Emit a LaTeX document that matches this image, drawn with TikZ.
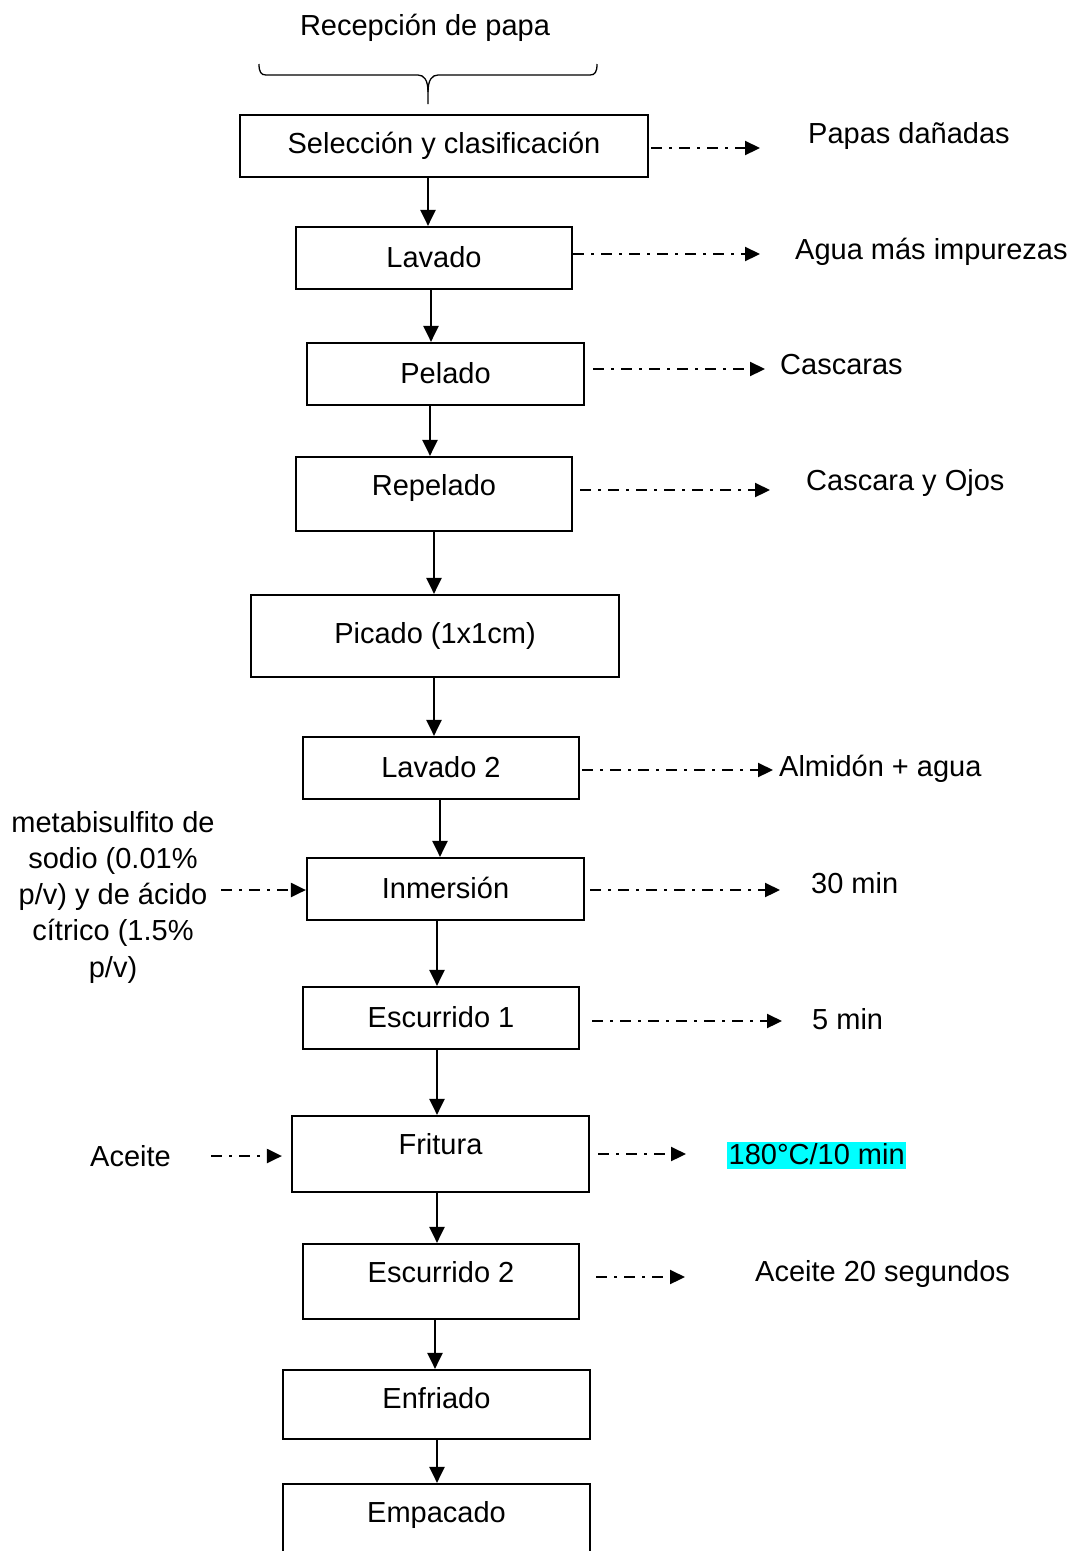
\documentclass[tikz,border=0pt]{standalone}
\usepackage{fontspec}
\setmainfont{Liberation Sans}
\usetikzlibrary{arrows.meta}
\definecolor{hlcyan}{RGB}{0,255,255}
\begin{document}
\begin{tikzpicture}[x=1pt,y=-1pt,
  every node/.style={font=\fontsize{29}{36.25}\selectfont},
  stepbox/.style={draw,line width=2.2pt,inner sep=0pt,minimum width=#1},
  lbl/.style={anchor=base west,inner sep=0pt},
  flow/.style={line width=2.2pt,-{Triangle[length=16pt,width=15pt]}},
  side/.style={line width=2.2pt,dash pattern=on 11pt off 7pt on 3pt off 7pt,-{Triangle[length=15pt,width=14pt]}}]
\useasboundingbox (0,0) rectangle (1075,1551);
% title and brace
\node[inner sep=0pt] (t) at (425,28) {Recepción de papa};
\draw[line width=1.3pt] (259,64) .. controls (259,72) and (261,75) .. (266,75) -- (418,75)
  .. controls (424,75) and (428,80) .. (428,92) -- (428,104);
\draw[line width=1.3pt] (597,64) .. controls (597,72) and (595,75) .. (590,75) -- (438,75)
  .. controls (432,75) and (428,80) .. (428,92);
% boxes
\node[stepbox=408pt,minimum height=62pt] (b1) at (444,146) {Selección y clasificación};
\node[stepbox=276pt,minimum height=62pt] (b2) at (434,258) {\raisebox{3pt}{Lavado}};
\node[stepbox=277pt,minimum height=62pt] (b3) at (445.5,374) {\raisebox{3pt}{Pelado}};
\node[stepbox=276pt,minimum height=74pt] (b4) at (434,494) {\raisebox{18pt}{Repelado}};
\node[stepbox=368pt,minimum height=82pt] (b5) at (435,636) {\raisebox{-3pt}{Picado (1x1cm)}};
\node[stepbox=276pt,minimum height=62pt] (b6) at (441,768) {\raisebox{3pt}{Lavado 2}};
\node[stepbox=277pt,minimum height=62pt] (b7) at (445.5,889) {\raisebox{3pt}{Inmersión}};
\node[stepbox=276pt,minimum height=62pt] (b8) at (441,1018) {\raisebox{3pt}{Escurrido 1}};
\node[stepbox=297pt,minimum height=76pt] (b9) at (440.5,1154) {\raisebox{21pt}{Fritura}};
\node[stepbox=276pt,minimum height=75pt] (b10) at (441,1281.5) {\raisebox{20pt}{Escurrido 2}};
\node[stepbox=307pt,minimum height=69pt] (b11) at (436.5,1404.5) {\raisebox{14pt}{Enfriado}};
\node[stepbox=307pt,minimum height=80pt] (b12) at (436.5,1524) {\raisebox{24pt}{Empacado}};
% vertical arrows
\draw[flow] ([xshift=-16pt]b1.south) -- ([xshift=-6pt]b2.north);
\draw[flow] ([xshift=-3pt]b2.south) -- ([xshift=-14.5pt]b3.north);
\draw[flow] ([xshift=-15.5pt]b3.south) -- ([xshift=-4pt]b4.north);
\draw[flow] (b4.south) -- ([xshift=-1pt]b5.north);
\draw[flow] ([xshift=-1pt]b5.south) -- ([xshift=-7pt]b6.north);
\draw[flow] ([xshift=-1pt]b6.south) -- ([xshift=-5.5pt]b7.north);
\draw[flow] ([xshift=-8.5pt]b7.south) -- ([xshift=-4pt]b8.north);
\draw[flow] ([xshift=-4pt]b8.south) -- ([xshift=-3.5pt]b9.north);
\draw[flow] ([xshift=-3.5pt]b9.south) -- ([xshift=-4pt]b10.north);
\draw[flow] ([xshift=-6pt]b10.south) -- ([xshift=-1.5pt]b11.north);
\draw[flow] ([xshift=0.5pt]b11.south) -- ([xshift=0.5pt]b12.north);
% side outputs
\coordinate (e1) at (760,148);
\coordinate (e2) at (760,254);
\coordinate (e3) at (765,369);
\coordinate (e4) at (770,490);
\coordinate (e5) at (773,770);
\coordinate (e6) at (780,890);
\coordinate (e7) at (782,1021);
\coordinate (e8) at (686,1154);
\coordinate (e9) at (685,1277);
\draw[side,shorten <=2pt] (b1.east |- e1) -- (e1);
\draw[side] (b2.east |- e2) -- (e2);
\draw[side,shorten <=8pt] (b3.east |- e3) -- (e3);
\draw[side,shorten <=7pt] (b4.east |- e4) -- (e4);
\draw[side,shorten <=2pt] (b6.east |- e5) -- (e5);
\draw[side,shorten <=5pt] (b7.east |- e6) -- (e6);
\draw[side,shorten <=12pt] (b8.east |- e7) -- (e7);
\draw[side,shorten <=8pt] (b9.east |- e8) -- (e8);
\draw[side,shorten <=16pt] (b10.east |- e9) -- (e9);
\node[lbl] (l1) at (808,143) {Papas dañadas};
\node[lbl] (l2) at (795,259) {Agua más impurezas};
\node[lbl] (l3) at (780,374) {Cascaras};
\node[lbl] (l4) at (806,490) {Cascara y Ojos};
\node[lbl] (l5) at (779,776) {Almidón + agua};
\node[lbl] (l6) at (811,893) {30 min};
\node[lbl] (l7) at (812,1029) {5 min};
\node[anchor=base west,fill=hlcyan,inner xsep=1.5pt,inner ysep=1pt,text height=21pt,text depth=4pt] (l8) at (727,1164) {180°C/10 min};
\node[lbl] (l9) at (755,1281) {Aceite 20 segundos};
% inputs
\node[lbl] (i1) at (90,1166) {Aceite};
\coordinate (s1) at (211,1156);
\draw[side,shorten >=9pt] (s1) -- (b9.west |- s1);
\node[align=center,inner sep=0pt] (i2) at (113,897) {metabisulfito de\\sodio (0.01\%\\p/v) y de ácido\\cítrico (1.5\%\\p/v)};
\coordinate (s2) at (221,890);
\draw[side] (s2) -- (b7.west |- s2);
\end{tikzpicture}
\end{document}
